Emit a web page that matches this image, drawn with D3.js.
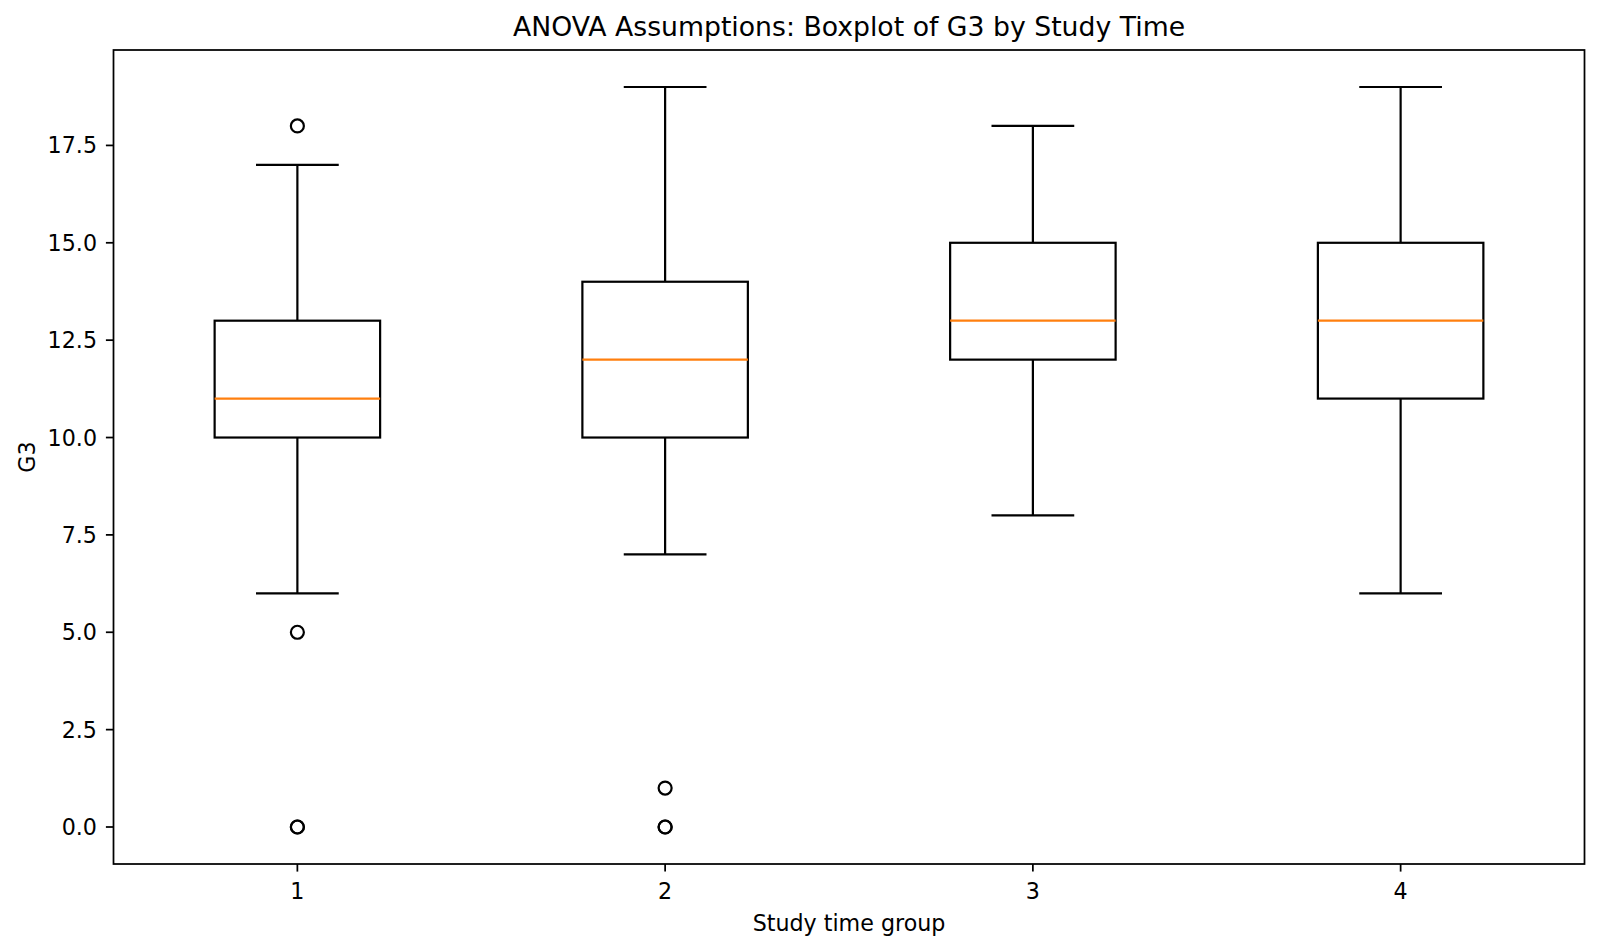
<!DOCTYPE html>
<html>
<head>
<meta charset="utf-8">
<script src="https://cdn.jsdelivr.net/npm/d3@7"></script>
<style>
  body { margin: 0; background: #fff; }
  svg { display: block; font-family: "DejaVu Sans", sans-serif; }
</style>
</head>
<body>
<svg id="chart" width="1600" height="951"></svg>
<script>
// box stats
const groups = [1, 2, 3, 4];
const whiskLo = [6, 7, 8, 6];
const q1 = [10, 10, 12, 11];
const medians = [11, 12, 13, 13];
const q3 = [13, 14, 15, 15];
const whiskHi = [17, 19, 18, 19];
const outliers = [[18, 5, 0, 0], [1, 0, 0], [], []];
const yTicks = [0, 2.5, 5, 7.5, 10, 12.5, 15, 17.5];

const svg = d3.select("#chart");
const plotLeft = 113.5, plotRight = 1584.5, plotTop = 50, plotBottom = 864;
const lw = 2.2;
const fs = 22.2;

const x = d3.scaleLinear().domain([0.5, 4.5]).range([plotLeft, plotRight]);
const y = d3.scaleLinear().domain([-0.95, 19.95]).range([plotBottom, plotTop]);

const boxW = 0.45, capW = 0.225;

// boxes
const g = svg.append("g");
groups.forEach(function(p, i) {
  const b = g.append("g").attr("fill", "none").attr("stroke", "#000").attr("stroke-width", lw);
  // whiskers
  b.append("line").attr("x1", x(p)).attr("x2", x(p)).attr("y1", y(q1[i])).attr("y2", y(whiskLo[i]));
  b.append("line").attr("x1", x(p)).attr("x2", x(p)).attr("y1", y(q3[i])).attr("y2", y(whiskHi[i]));
  // caps
  b.append("line").attr("x1", x(p - capW / 2)).attr("x2", x(p + capW / 2)).attr("y1", y(whiskLo[i])).attr("y2", y(whiskLo[i]));
  b.append("line").attr("x1", x(p - capW / 2)).attr("x2", x(p + capW / 2)).attr("y1", y(whiskHi[i])).attr("y2", y(whiskHi[i]));
  // box
  b.append("rect")
    .attr("x", x(p - boxW / 2)).attr("width", x(p + boxW / 2) - x(p - boxW / 2))
    .attr("y", y(q3[i])).attr("height", y(q1[i]) - y(q3[i]));
  // median
  g.append("line").attr("stroke", "#ff7f0e").attr("stroke-width", lw)
    .attr("x1", x(p - boxW / 2)).attr("x2", x(p + boxW / 2))
    .attr("y1", y(medians[i])).attr("y2", y(medians[i]));
  // fliers
  g.selectAll(null).data(outliers[i]).enter().append("circle")
    .attr("cx", x(p)).attr("cy", function(d) { return y(d); })
    .attr("r", 6.5).attr("fill", "none").attr("stroke", "#000").attr("stroke-width", lw);
});

// axes frame
svg.append("rect").attr("x", plotLeft).attr("y", plotTop).attr("width", plotRight - plotLeft).attr("height", plotBottom - plotTop)
  .attr("fill", "none").attr("stroke", "#000").attr("stroke-width", 1.75);

// y ticks
const yt = svg.append("g");
yTicks.forEach(function(t) {
  yt.append("line").attr("x1", plotLeft - 7.6).attr("x2", plotLeft).attr("y1", y(t)).attr("y2", y(t))
    .attr("stroke", "#000").attr("stroke-width", 1.75);
  yt.append("text").attr("x", plotLeft - 16.5).attr("y", y(t) + 8)
    .attr("text-anchor", "end").attr("font-size", fs).attr("fill", "#000")
    .text(d3.format(".1f")(t));
});

// x ticks
const xt = svg.append("g");
groups.forEach(function(p) {
  xt.append("line").attr("x1", x(p)).attr("x2", x(p)).attr("y1", plotBottom).attr("y2", plotBottom + 7.6)
    .attr("stroke", "#000").attr("stroke-width", 1.75);
  xt.append("text").attr("x", x(p)).attr("y", 898.5)
    .attr("text-anchor", "middle").attr("font-size", fs).attr("fill", "#000")
    .text(p);
});

// labels
svg.append("text").attr("x", (plotLeft + plotRight) / 2).attr("y", 930.5)
  .attr("text-anchor", "middle").attr("font-size", fs).text("Study time group");
svg.append("text").attr("transform", "translate(35," + (plotTop + plotBottom) / 2 + ") rotate(-90)")
  .attr("text-anchor", "middle").attr("font-size", fs).text("G3");
svg.append("text").attr("x", (plotLeft + plotRight) / 2).attr("y", 36)
  .attr("text-anchor", "middle").attr("font-size", 26.7).text("ANOVA Assumptions: Boxplot of G3 by Study Time");
</script>
</body>
</html>
